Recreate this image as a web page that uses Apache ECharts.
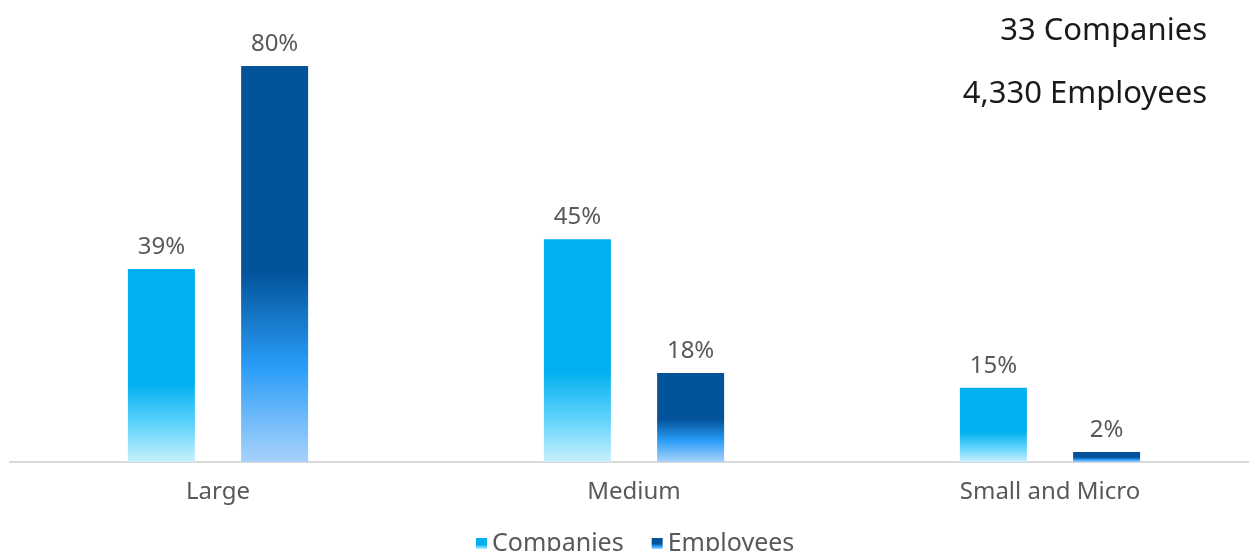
<!DOCTYPE html>
<html>
<head>
<meta charset="utf-8">
<script src="https://cdn.jsdelivr.net/npm/echarts@6/dist/echarts.min.js"></script>
<style>
  html, body { margin: 0; padding: 0; background: #ffffff; overflow: hidden; }
  /* the plot runs slightly past the right edge of the page */
  #chart { width: 1258px; height: 551px; }
</style>
</head>
<body>
<div id="chart"></div>
<script>
// Company size breakdown: share of companies vs. share of employees
const categories = ['Large', 'Medium', 'Small and Micro'];
const companiesPct = [39, 45, 15];
const employeesPct = [80, 18, 2];
const seriesNames = ['Companies', 'Employees'];
const summaryLines = ['33 Companies', '4,330 Employees'];

const FONT = '"Noto Sans", sans-serif';

function vGrad(stops) {
  return new echarts.graphic.LinearGradient(0, 0, 0, 1,
    stops.map(([offset, color]) => ({ offset, color })));
}

const companiesFill = vGrad([[0, '#00B0F0'], [0.59, '#00B0F0'], [0.8, '#5CD2FA'], [1, '#C8F0FD']]);
const employeesFill = vGrad([[0, '#02539A'], [0.52, '#02539A'], [0.76, '#2A9DF8'], [1, '#A8D2FA']]);

const chart = echarts.init(document.getElementById('chart'), null, { renderer: 'canvas' });

const valueLabel = {
  show: true,
  position: 'top',
  distance: 10,
  formatter: '{c}%',
  color: '#595959',
  fontFamily: FONT,
  fontSize: 24
};

chart.setOption({
  animation: false,
  backgroundColor: '#ffffff',
  grid: { left: 10, right: 0, top: 66, bottom: 89, containLabel: false },
  xAxis: {
    type: 'category',
    data: categories,
    axisLine: { show: true, lineStyle: { color: '#D9D9D9', width: 2 } },
    axisTick: { show: false },
    axisLabel: { color: '#595959', fontFamily: FONT, fontSize: 24, margin: 18 }
  },
  yAxis: {
    type: 'value',
    min: 0,
    max: 80,
    show: false,
    splitLine: { show: false }
  },
  legend: {
    data: seriesNames,
    bottom: -10,
    left: 471,
    icon: 'rect',
    itemWidth: 11,
    itemHeight: 11,
    itemGap: 28,
    textStyle: { color: '#595959', fontFamily: FONT, fontSize: 25 }
  },
  graphic: summaryLines.map((line, i) => ({
    type: 'text',
    x: 1207,
    y: 31 + i * 63,
    style: {
      text: line,
      fill: '#1A1A1A',
      font: '31px ' + FONT,
      textAlign: 'right',
      textVerticalAlign: 'middle'
    }
  })),
  series: [
    {
      name: seriesNames[0],
      type: 'bar',
      data: companiesPct,
      barWidth: 67,
      barGap: '69%',
      itemStyle: { color: companiesFill },
      label: valueLabel
    },
    {
      name: seriesNames[1],
      type: 'bar',
      data: employeesPct,
      barWidth: 67,
      barGap: '69%',
      itemStyle: { color: employeesFill },
      label: valueLabel
    }
  ]
});
</script>
</body>
</html>
